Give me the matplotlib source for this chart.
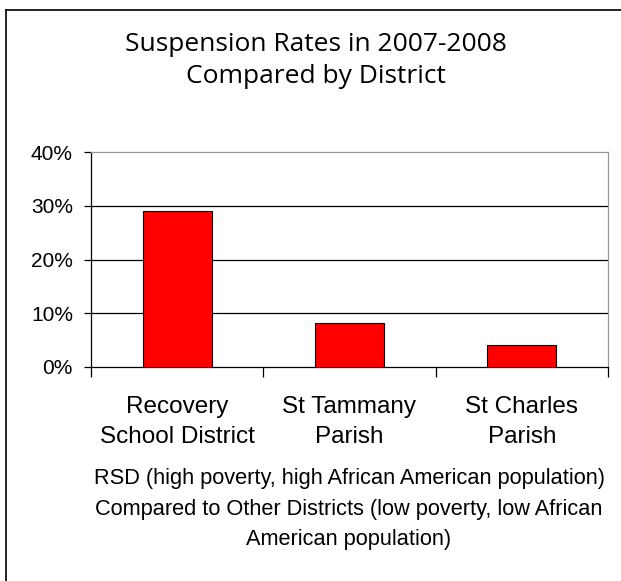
import matplotlib
matplotlib.use("Agg")
import matplotlib.pyplot as plt
from matplotlib.ticker import FixedLocator, FuncFormatter
from matplotlib.lines import Line2D

categories = ["Recovery\nSchool District", "St Tammany\nParish", "St Charles\nParish"]
rates = [29.0, 8.2, 4.1]
yticks = [0, 10, 20, 30, 40]
title = "Suspension Rates in 2007-2008\nCompared by District"
footnote = ("RSD (high poverty, high African American population)\n"
            "Compared to Other Districts (low poverty, low African\n"
            "American population)")

fig = plt.figure(figsize=(6.21, 5.81), dpi=100)
fig.patch.set_facecolor("white")

# outer frame (left and top edges visible)
fig.add_artist(Line2D([6/621, 6/621], [0, 1 - 10/581], color="black", lw=1.2, transform=fig.transFigure))
fig.add_artist(Line2D([6/621, 1.0], [1 - 10/581, 1 - 10/581], color="black", lw=1.2, transform=fig.transFigure))

ax = fig.add_axes([91/621, 1 - 367/581, (608 - 91)/621, (367 - 152)/581])
x = list(range(len(categories)))
ax.bar(x, rates, width=0.4, color="#ff0000", edgecolor="black", linewidth=0.8, zorder=3)
ax.set_xlim(-0.5, len(categories) - 0.5)
ax.set_ylim(0, 40)
ax.set_yticks(yticks)
ax.yaxis.set_major_formatter(FuncFormatter(lambda v, p: f"{int(v)}%"))
for v in yticks[1:-1]:
    ax.axhline(v, color="black", lw=0.9, zorder=1)

ax.spines["top"].set_color("#999999")
ax.spines["right"].set_color("#999999")
ax.spines["left"].set_color("black")
ax.spines["bottom"].set_color("black")
for s in ax.spines.values():
    s.set_linewidth(0.9)

ax.set_xticks(x)
ax.set_xticklabels(categories, fontsize=17.5, family="Liberation Sans", linespacing=1.44)
ax.xaxis.set_minor_locator(FixedLocator([-0.5, 0.5, 1.5, 2.5]))
ax.tick_params(axis="x", which="major", length=0, pad=21)
ax.tick_params(axis="x", which="minor", length=7, width=0.9, color="black", direction="out")
ax.tick_params(axis="y", length=5, width=0.9, direction="out", pad=8)
for lab in ax.get_yticklabels():
    lab.set_family("Liberation Sans")
    lab.set_fontsize(15)

fig.text(0.508, 1 - 60.5/581, title, ha="center", va="center", fontsize=19,
         family="Open Sans", linespacing=1.38)
fig.text(0.562, 1 - 509/581, footnote, ha="center", va="center", fontsize=15.7,
         family="Liberation Sans", linespacing=1.57)

fig.savefig("out.png", dpi=100)
